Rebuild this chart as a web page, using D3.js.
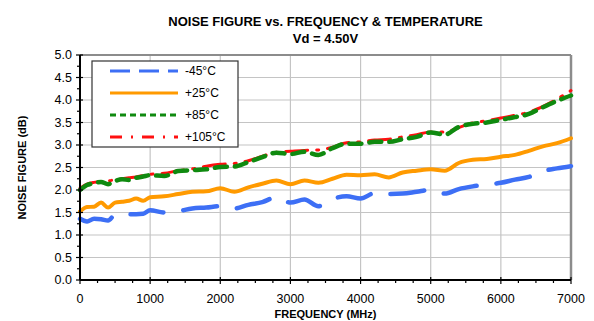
<!DOCTYPE html>
<html>
<head>
<meta charset="utf-8">
<script src="https://cdn.jsdelivr.net/npm/d3@7"></script>
<style>
  body { margin: 0; background: #fff; }
  text { font-family: "Liberation Sans", Arial, sans-serif; }
</style>
</head>
<body>
<div id="chart"></div>
<script>
// frequency points (MHz)
var freqs = [0, 100, 200, 300, 400, 500, 600, 700, 800, 900, 1000,
  1200, 1400, 1600, 1800, 2000, 2200, 2400, 2600, 2800, 3000,
  3200, 3400, 3600, 3800, 4000, 4200, 4400, 4600, 4800, 5000,
  5200, 5400, 5600, 5800, 6000, 6200, 6400, 6600, 6800, 7000];

// noise figure (dB) per temperature
var nfM45 = [1.36, 1.30, 1.36, 1.35, 1.32, 1.45, 1.46, 1.46, 1.46, 1.47, 1.55,
  1.50, 1.53, 1.59, 1.61, 1.64, 1.59, 1.67, 1.73, 1.84, 1.72,
  1.79, 1.64, 1.80, 1.86, 1.81, 1.93, 1.91, 1.92, 1.96, 2.00,
  1.92, 2.02, 2.08, 2.12, 2.16, 2.23, 2.29, 2.42, 2.48, 2.53];
var nfP25 = [1.52, 1.62, 1.63, 1.72, 1.61, 1.72, 1.74, 1.76, 1.81, 1.76, 1.84,
  1.86, 1.91, 1.96, 1.97, 2.04, 1.96, 2.06, 2.14, 2.21, 2.13,
  2.21, 2.16, 2.25, 2.34, 2.33, 2.35, 2.28, 2.39, 2.43, 2.46,
  2.43, 2.60, 2.67, 2.69, 2.74, 2.78, 2.87, 2.97, 3.04, 3.15];
var nfP85 = [2.00, 2.11, 2.15, 2.18, 2.13, 2.20, 2.24, 2.22, 2.27, 2.30, 2.33,
  2.31, 2.42, 2.44, 2.46, 2.51, 2.52, 2.62, 2.73, 2.83, 2.80,
  2.85, 2.78, 2.93, 3.03, 3.03, 3.07, 3.07, 3.13, 3.18, 3.28,
  3.23, 3.40, 3.47, 3.50, 3.56, 3.62, 3.69, 3.84, 3.98, 4.10];
var nfP105 = [2.04, 2.13, 2.17, 2.19, 2.20, 2.23, 2.25, 2.27, 2.29, 2.32, 2.35,
  2.37, 2.43, 2.47, 2.53, 2.57, 2.59, 2.65, 2.75, 2.84, 2.86,
  2.88, 2.89, 2.95, 3.05, 3.07, 3.11, 3.13, 3.18, 3.23, 3.29,
  3.29, 3.39, 3.49, 3.54, 3.60, 3.66, 3.73, 3.86, 4.02, 4.21];

var seriesNames = ['-45°C', '+25°C', '+85°C', '+105°C'];
var xTicks = [0, 1000, 2000, 3000, 4000, 5000, 6000, 7000];
var yTicks = [0, 0.5, 1, 1.5, 2, 2.5, 3, 3.5, 4, 4.5, 5];

var series = [
  { name: seriesNames[0], values: nfM45, color: '#3d6ff5', width: 4.5, dash: '34,20', legendDash: '20,9' },
  { name: seriesNames[1], values: nfP25, color: '#ff9a00', width: 4, dash: null, legendDash: null },
  { name: seriesNames[2], values: nfP85, color: '#0f8a0f', width: 4.5, dash: '12,8', legendDash: '6,4' },
  { name: seriesNames[3], values: nfP105, color: '#ff1010', width: 3, dash: '22,9,2,9', legendDash: '12,9,2,9' }
];

var width = 594;
var height = 321;
var margin = { top: 55, left: 80, right: 23, bottom: 41 };

var svg = d3.select('#chart')
  .append('svg')
  .attr('width', width)
  .attr('height', height);

var w = width - margin.left - margin.right;
var h = height - margin.top - margin.bottom;

var g = svg.append('g')
  .attr('transform', 'translate(' + margin.left + ',' + margin.top + ')');

var x = d3.scaleLinear().domain([0, 7000]).range([0, w]);
var y = d3.scaleLinear().domain([0, 5]).range([h, 0]);

// gridlines
g.append('g')
  .selectAll('line.vg')
  .data(xTicks.slice(1, -1))
  .enter().append('line')
  .attr('x1', function(d) { return x(d); })
  .attr('x2', function(d) { return x(d); })
  .attr('y1', 0).attr('y2', h)
  .attr('stroke', '#c4c4c4').attr('stroke-width', 1.2);

g.append('g')
  .selectAll('line.hg')
  .data(yTicks.slice(1, -1))
  .enter().append('line')
  .attr('x1', 0).attr('x2', w)
  .attr('y1', function(d) { return y(d); })
  .attr('y2', function(d) { return y(d); })
  .attr('stroke', '#c4c4c4').attr('stroke-width', 1.2);

// plot frame top/right
g.append('line').attr('x1', 0).attr('x2', w).attr('y1', 0).attr('y2', 0)
  .attr('stroke', '#8c8c8c').attr('stroke-width', 2);
g.append('line').attr('x1', w).attr('x2', w).attr('y1', 0).attr('y2', h)
  .attr('stroke', '#8c8c8c').attr('stroke-width', 2.5);

// lines (drawn back to front)
var line = d3.line()
  .curve(d3.curveMonotoneX)
  .x(function(d, i) { return x(freqs[i]); })
  .y(function(d) { return y(d); });

[3, 2, 1, 0].forEach(function(k) {
  var s = series[k];
  g.append('path')
    .datum(s.values)
    .attr('fill', 'none')
    .attr('stroke', s.color)
    .attr('stroke-width', s.width)
    .attr('stroke-linecap', 'round')
    .attr('stroke-linejoin', 'round')
    .attr('stroke-dasharray', s.dash)
    .attr('d', line);
});

// axes
var yMinor = d3.range(0, 5.01, 0.25);
var xMinor = d3.range(0, 7001, 250);

var yAxis = g.append('g');
yAxis.append('line').attr('x1', 0).attr('x2', 0).attr('y1', 0).attr('y2', h)
  .attr('stroke', '#000').attr('stroke-width', 2);
yAxis.selectAll('line.mt')
  .data(yMinor)
  .enter().append('line')
  .attr('x1', function(d, i) { return i % 2 === 0 ? -4 : -3; })
  .attr('x2', function(d, i) { return i % 2 === 0 ? 3 : 0; })
  .attr('y1', function(d) { return y(d); })
  .attr('y2', function(d) { return y(d); })
  .attr('stroke', '#000').attr('stroke-width', 1.2);
yAxis.selectAll('text')
  .data(yTicks)
  .enter().append('text')
  .attr('x', -8)
  .attr('y', function(d) { return y(d); })
  .attr('dy', '0.35em')
  .attr('text-anchor', 'end')
  .style('font-size', '12.5px')
  .text(function(d) { return d3.format('.1f')(d); });

var xAxis = g.append('g').attr('transform', 'translate(0,' + h + ')');
xAxis.append('line').attr('x1', 0).attr('x2', w).attr('y1', 0).attr('y2', 0)
  .attr('stroke', '#000').attr('stroke-width', 2);
xAxis.selectAll('line.mt')
  .data(xMinor)
  .enter().append('line')
  .attr('x1', function(d) { return x(d); })
  .attr('x2', function(d) { return x(d); })
  .attr('y1', function(d, i) { return i % 4 === 0 ? -3 : 0; })
  .attr('y2', function(d, i) { return i % 4 === 0 ? 4 : 3; })
  .attr('stroke', '#000').attr('stroke-width', 1.2);
xAxis.selectAll('text')
  .data(xTicks)
  .enter().append('text')
  .attr('x', function(d) { return x(d); })
  .attr('y', 23)
  .attr('text-anchor', 'middle')
  .style('font-size', '12.5px')
  .text(function(d) { return d; });

// axis titles
svg.append('text')
  .attr('x', margin.left + w / 2)
  .attr('y', 318)
  .attr('text-anchor', 'middle')
  .style('font-size', '11px')
  .style('font-weight', 'bold')
  .text('FREQUENCY (MHz)');

svg.append('text')
  .attr('transform', 'translate(26,' + (margin.top + h / 2) + ') rotate(-90)')
  .attr('text-anchor', 'middle')
  .style('font-size', '11px')
  .style('font-weight', 'bold')
  .text('NOISE FIGURE (dB)');

// title
svg.append('text')
  .attr('x', margin.left + w / 2)
  .attr('y', 26)
  .attr('text-anchor', 'middle')
  .style('font-size', '13px')
  .style('font-weight', 'bold')
  .text('NOISE FIGURE vs. FREQUENCY & TEMPERATURE');
svg.append('text')
  .attr('x', margin.left + w / 2)
  .attr('y', 43)
  .attr('text-anchor', 'middle')
  .style('font-size', '13px')
  .style('font-weight', 'bold')
  .text('Vd = 4.50V');

// legend
var legend = svg.append('g').attr('transform', 'translate(92,61)');
legend.append('rect')
  .attr('width', 146).attr('height', 86)
  .attr('fill', '#fff')
  .attr('stroke', '#333').attr('stroke-width', 1.2);

var items = legend.selectAll('g.item')
  .data(series)
  .enter().append('g')
  .attr('transform', function(d, i) { return 'translate(0,' + (10 + i * 22) + ')'; });
items.append('line')
  .attr('x1', 18).attr('x2', 86).attr('y1', 0).attr('y2', 0)
  .attr('stroke', function(d) { return d.color; })
  .attr('stroke-width', 3)
  .attr('stroke-dasharray', function(d) { return d.legendDash; });
items.append('text')
  .attr('x', 93).attr('y', 0).attr('dy', '0.35em')
  .style('font-size', '12px')
  .text(function(d) { return d.name; });
</script>
</body>
</html>
